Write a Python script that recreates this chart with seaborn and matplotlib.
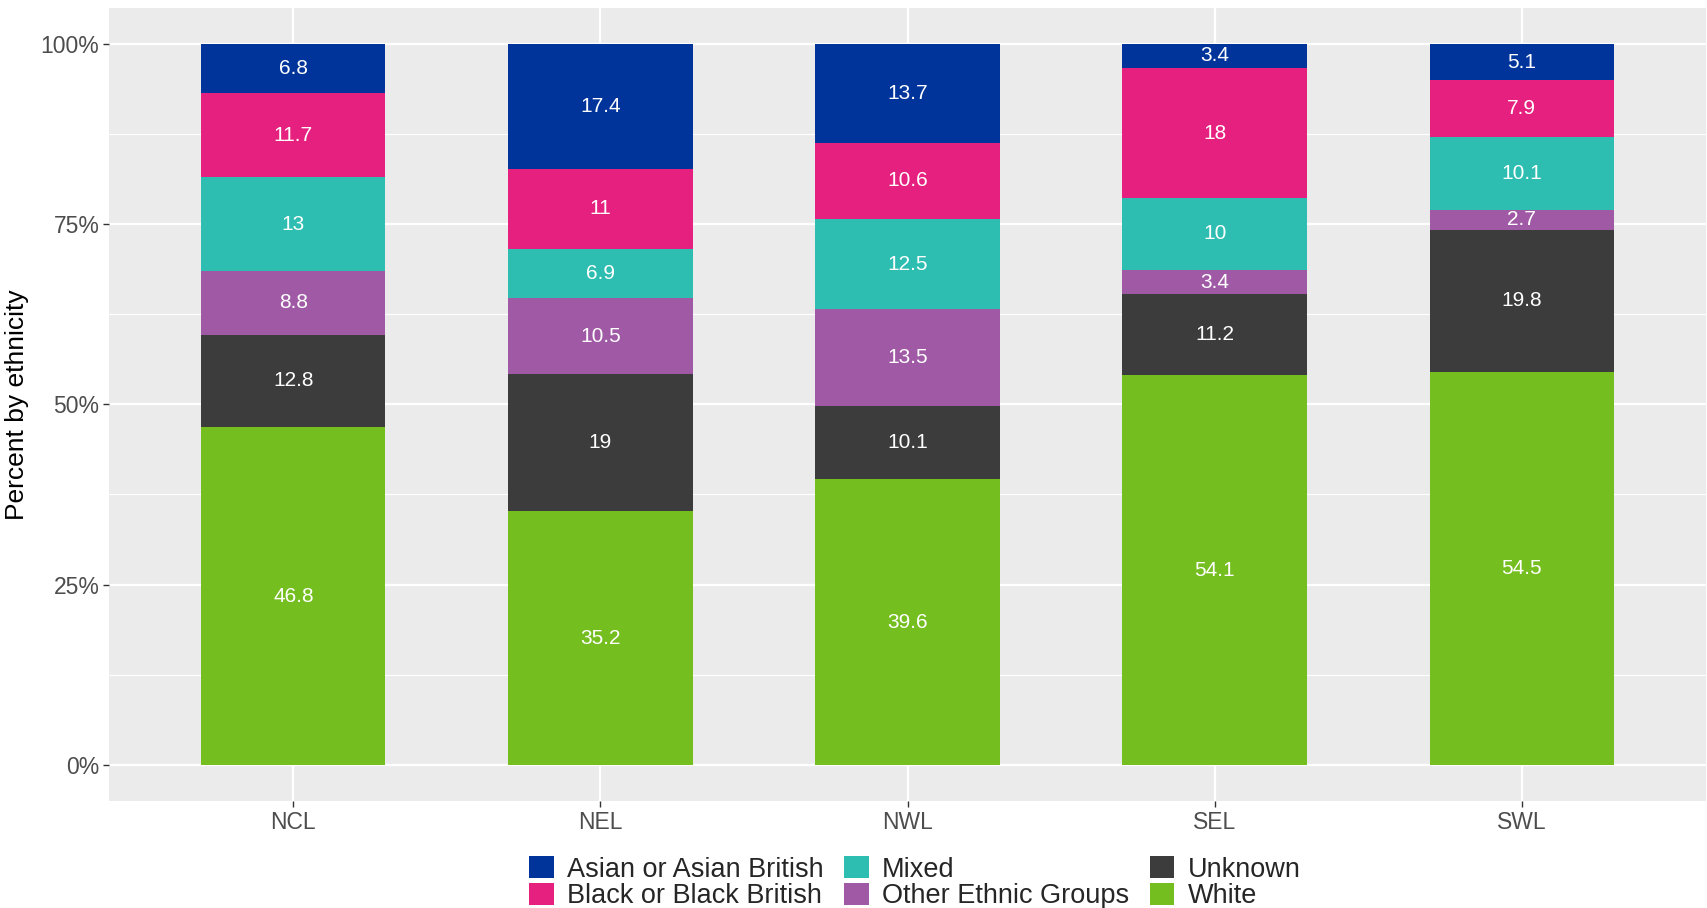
import matplotlib
matplotlib.use("Agg")
import matplotlib.pyplot as plt
from matplotlib.patches import Patch
from matplotlib.ticker import FixedLocator
import numpy as np
import pandas as pd
import seaborn as sns

sns.set_style("white")
plt.rcParams["font.family"] = ["Liberation Sans", "DejaVu Sans"]

REGIONS = ["NCL", "NEL", "NWL", "SEL", "SWL"]
# stacking order, top -> bottom (same as legend order)
GROUPS = [
    "Asian or Asian British",
    "Black or Black British",
    "Mixed",
    "Other Ethnic Groups",
    "Unknown",
    "White",
]
ASIAN = [6.8, 17.4, 13.7, 3.4, 5.1]
BLACK = [11.7, 11.0, 10.6, 18.0, 7.9]
MIXED = [13.0, 6.9, 12.5, 10.0, 10.1]
OTHER = [8.8, 10.5, 13.5, 3.4, 2.7]
UNKNOWN = [12.8, 19.0, 10.1, 11.2, 19.8]
WHITE = [46.8, 35.2, 39.6, 54.1, 54.5]
COLORS = ["#00349B", "#E6207F", "#2EBDB1", "#A05AA5", "#3C3C3C", "#74BE1F"]

values = pd.DataFrame(
    dict(zip(GROUPS, [ASIAN, BLACK, MIXED, OTHER, UNKNOWN, WHITE])), index=REGIONS
)
# position = "fill": each bar scaled to 100 %
shares = values.div(values.sum(axis=1), axis=0)
# cumulative tops, built from the bottom (White) upwards
tops = shares[GROUPS[::-1]].cumsum(axis=1)

fig = plt.figure(figsize=(17.07, 9.08), dpi=100)
ax = fig.add_axes([0.0639, 0.1178, 0.9355, 0.8738])
ax.set_facecolor("#EBEBEB")

# draw the tallest cumulative bar first, then cover it with the shorter ones
for grp, col in zip(GROUPS, COLORS):
    df = pd.DataFrame({"region": REGIONS, "top": tops[grp].values})
    sns.barplot(
        data=df, x="region", y="top", order=REGIONS, color=col,
        saturation=1, width=0.6, errorbar=None, linewidth=0, ax=ax, zorder=3,
    )

# value labels in the middle of each segment
for i, reg in enumerate(REGIONS):
    for grp in GROUPS:
        mid = tops.loc[reg, grp] - shares.loc[reg, grp] / 2
        ax.text(i, mid, f"{values.loc[reg, grp]:g}", ha="center", va="center",
                color="white", fontsize=15, zorder=4)

ax.set_xlim(-0.6, 4.6)
ax.set_ylim(-0.05, 1.05)
ax.set_yticks([0, 0.25, 0.5, 0.75, 1.0])
ax.set_yticklabels(["0%", "25%", "50%", "75%", "100%"])
ax.yaxis.set_minor_locator(FixedLocator([0.125, 0.375, 0.625, 0.875]))
ax.grid(which="major", axis="both", color="white", linewidth=1.6, zorder=0)
ax.grid(which="minor", axis="y", color="white", linewidth=0.8, zorder=0)
ax.set_axisbelow(True)
for s in ax.spines.values():
    s.set_visible(False)
ax.tick_params(axis="both", which="major", length=4, width=1, color="#333333",
               labelcolor="#4D4D4D", labelsize=16.5, pad=3, direction="out",
               bottom=True, left=True)
ax.tick_params(axis="y", which="minor", length=0)
ax.set_xlabel("")
ax.set_ylabel("Percent by ethnicity", fontsize=19, color="black", labelpad=8)

handles = [Patch(facecolor=c, edgecolor="none") for c in COLORS]
fig.legend(handles, GROUPS, loc="center", bbox_to_anchor=(0.536, 0.028), ncol=3,
           frameon=False, fontsize=19.5, handlelength=0.9, handleheight=0.9,
           handletextpad=0.5, columnspacing=0.75, labelspacing=0.0,
           borderpad=0.1)

fig.savefig("out.png", dpi=100)
